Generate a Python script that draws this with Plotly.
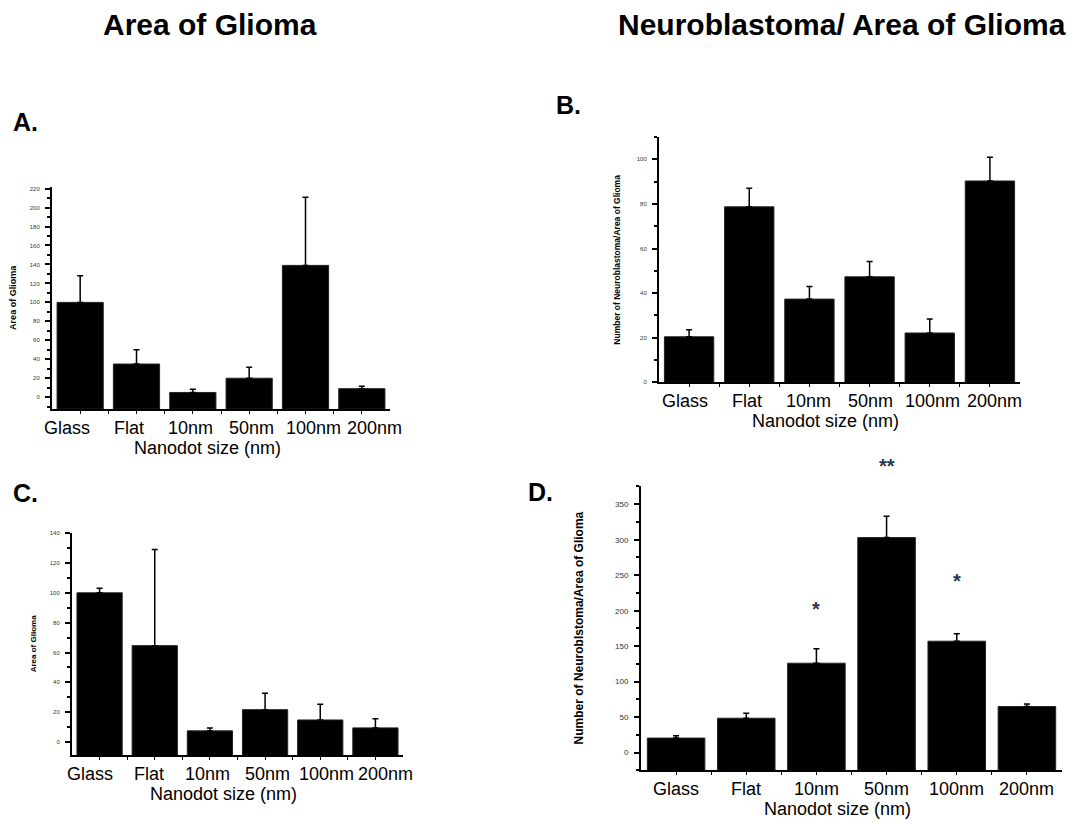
import plotly.graph_objects as go

categories = ["Glass", "Flat", "10nm", "50nm", "100nm", "200nm"]

A_mean = [100, 35, 5, 20, 139, 9]
A_err = [28, 15, 3.5, 11.5, 72, 2.5]

B_mean = [20.4, 78.7, 37.3, 47.3, 22.1, 90.3]
B_err = [3.2, 8.3, 5.7, 6.9, 6.3, 10.7]

C_mean = [100, 64.6, 7.5, 21.7, 14.8, 9.5]
C_err = [3, 64.4, 2, 11, 10.6, 6.2]

D_mean = [20.5, 48.5, 126, 303, 157, 65]
D_err = [3.3, 7, 20.5, 30, 10.5, 3.7]
D_marks = ["", "", "*", "**", "*", ""]
D_mark_y = [None, None, 203, 404, 242, None]

# the page body has an 8px default margin: draw in a figure that fits the window
OFF = 8
W, H = 1075 - OFF, 825 - OFF
FONT = "Liberation Sans, Arial, sans-serif"


def px(x):
    return (x - OFF) / W


def py(y):
    return 1 - (y - OFF) / H


panels = [
    dict(mean=A_mean, err=A_err, xd=(52, 390), yd=(185, 409), yr=(-12.5, 222), dt=20, mn=10,
         ytitle="Area of Glioma", ytx=13, yts=9, tfs=6, spread=1.09),
    dict(mean=B_mean, err=B_err, xd=(659, 1020), yd=(135, 382), yr=(0, 110), dt=20, mn=10,
         ytitle="Number of Neuroblastoma/Area of Glioma", ytx=617, yts=8.5, tfs=6, spread=1.03),
    dict(mean=C_mean, err=C_err, xd=(72, 403), yd=(534, 758), yr=(-9, 140), dt=20, mn=10,
         ytitle="Area of Glioma", ytx=33, yts=8, tfs=6, spread=1.07),
    dict(mean=D_mean, err=D_err, xd=(641, 1062), yd=(487, 773), yr=(-25, 375), dt=50, mn=25,
         ytitle="Number of Neuroblstoma/Area of Glioma", ytx=579, yts=12, tfs=8, spread=1.0),
]

fig = go.Figure()
annotations = []

for i, p in enumerate(panels):
    n = "" if i == 0 else str(i + 1)
    xa, ya = "x" + n, "y" + n
    base = p["yr"][0]
    fig.add_trace(go.Bar(
        x=list(range(len(categories))),
        y=[v - base for v in p["mean"]],
        base=base,
        width=0.82,
        marker=dict(color="black", line=dict(color="#222", width=1)),
        error_y=dict(type="data", symmetric=False, array=p["err"],
                     arrayminus=[0] * len(p["err"]), color="black",
                     thickness=1.5, width=3),
        xaxis=xa, yaxis=ya, showlegend=False,
    ))
    x0, x1 = p["xd"]
    top, bottom = p["yd"]
    fig.layout["xaxis" + n] = dict(
        domain=[px(x0), px(x1)], anchor=ya, range=[-0.5, 5.5],
        tickmode="array", tickvals=list(range(len(categories))),
        showticklabels=False,
        showline=True, linecolor="black", linewidth=2, mirror=False,
        ticks="outside", ticklen=3, tickwidth=1, tickcolor="black",
        minor=dict(tickmode="array", tickvals=[k + 0.5 for k in range(len(categories) - 1)],
                   ticks="outside", ticklen=3, tickcolor="black"),
        showgrid=False, zeroline=False, fixedrange=True,
    )
    fig.layout["yaxis" + n] = dict(
        domain=[py(bottom), py(top)], anchor=xa, range=list(p["yr"]),
        tick0=0, dtick=p["dt"],
        tickfont=dict(family=FONT, size=p["tfs"], color="#333"),
        showline=True, linecolor="black", linewidth=2,
        ticks="outside", ticklen=5, tickwidth=1.5, tickcolor="black",
        ticklabelstandoff=4,
        minor=dict(dtick=p["mn"], tick0=0, ticks="outside", ticklen=3, tickcolor="black"),
        showgrid=False, zeroline=False, fixedrange=True,
    )
    # category labels (typed under the axis, spaced a little wider than the bars)
    mid = (len(categories) - 1) / 2
    for k, c in enumerate(categories):
        annotations.append(dict(
            text=c, x=mid + (k - mid) * p["spread"], y=py(bottom + 19), xref=xa, yref="paper",
            showarrow=False, font=dict(family=FONT, size=18, color="black"),
            xanchor="center", yanchor="middle",
        ))
    # y-axis title
    annotations.append(dict(
        text="<b>" + p["ytitle"] + "</b>", textangle=-90,
        x=px(p["ytx"]), y=(py(top) + py(bottom)) / 2, xref="paper", yref="paper",
        showarrow=False, font=dict(family=FONT, size=p["yts"], color="black"),
        xanchor="center", yanchor="middle",
    ))
    # x-axis title
    annotations.append(dict(
        text="Nanodot size (nm)",
        x=px((x0 + x1) / 2 - 14), y=py(bottom + 39), xref="paper", yref="paper",
        showarrow=False, font=dict(family=FONT, size=18, color="black"),
        xanchor="center", yanchor="middle",
    ))

# significance marks on panel D (converted to paper coords so they may sit above the axis)
pD = panels[3]
for k, (m, yv) in enumerate(zip(D_marks, D_mark_y)):
    if m:
        r0, r1 = pD["yr"]
        d0, d1 = py(pD["yd"][1]), py(pD["yd"][0])
        yp = d0 + (yv - r0) / (r1 - r0) * (d1 - d0)
        annotations.append(dict(
            text="<b>" + m + "</b>", x=k, y=yp, xref="x4", yref="paper",
            showarrow=False, font=dict(family=FONT, size=20, color="#2a3550"),
            xanchor="center", yanchor="middle",
        ))

# headers and panel letters
for txt, x, y, s in [
    ("Area of Glioma", 210, 22, 30),
    ("Neuroblastoma/ Area of Glioma", 842, 22, 30),
    ("A.", 25, 120, 25),
    ("B.", 568, 103, 25),
    ("C.", 25, 494, 25),
    ("D.", 540, 493, 25),
]:
    annotations.append(dict(
        text="<b>" + txt + "</b>", x=px(x), y=py(y), xref="paper", yref="paper",
        showarrow=False, font=dict(family=FONT, size=s, color="black"),
        xanchor="center", yanchor="middle",
    ))

fig.update_layout(
    width=W, height=H, margin=dict(l=0, r=0, t=0, b=0),
    paper_bgcolor="white", plot_bgcolor="white",
    annotations=annotations, bargap=0.18,
)

fig.write_html("out.html")
